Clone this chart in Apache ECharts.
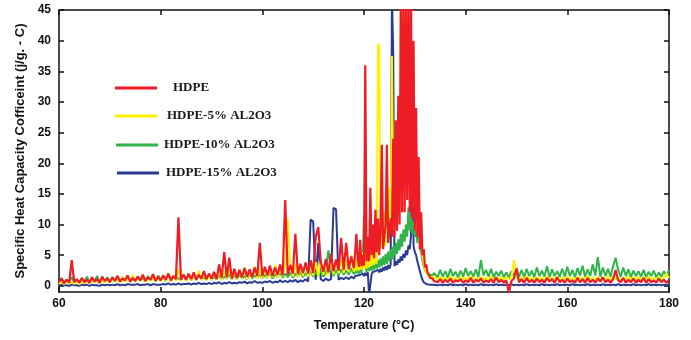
<!DOCTYPE html>
<html>
<head>
<meta charset="utf-8">
<script src="https://cdn.jsdelivr.net/npm/echarts@6/dist/echarts.min.js"></script>
<style>
html,body{margin:0;padding:0;background:#fff;}
#chart{width:691px;height:340px;}
</style>
</head>
<body>
<div id="chart"></div>
<script>
// Temperatures (°C) shared by all series
var temps = [
60,60.5,61,61.5,62,62.5,63,63.5,64,64.5,
65,65.5,66,66.5,67,67.5,68,68.5,69,69.5,
70,70.5,71,71.5,72,72.5,73,73.5,74,74.5,
75,75.5,76,76.5,77,77.5,78,78.5,79,79.5,
80,80.5,81,81.5,82,82.5,83,83.5,84,84.5,
85,85.5,86,86.5,87,87.5,88,88.5,89,89.5,
90,90.5,91,91.5,92,92.5,93,93.5,94,94.5,
95,95.5,96,96.5,97,97.5,98,98.5,99,99.5,
100,100.5,101,101.5,102,102.5,103,103.5,104,104.5,
105,105.5,106,106.5,107,107.5,108,108.5,109,109.5,
110,110.5,111,111.5,112,112.5,113,113.5,114,114.5,
115,115.5,116,116.5,117,117.5,
118,118.25,118.5,118.75,119,119.25,119.5,119.75,
120,120.25,120.5,120.75,121,121.25,121.5,121.75,
122,122.25,122.5,122.75,123,123.25,123.5,123.75,
124,124.25,124.5,124.75,125,125.25,125.5,125.75,
126,126.25,126.5,126.75,127,127.25,127.5,127.75,
128,128.25,128.5,128.75,129,129.25,129.5,129.75,
130,130.25,130.5,130.75,131,131.25,131.5,131.75,
132,132.25,132.5,132.75,133,133.25,133.5,133.75,
134,134.5,135,135.5,136,136.5,137,137.5,138,138.5,
139,139.5,140,140.5,141,141.5,142,142.5,143,143.5,
144,144.5,145,145.5,146,146.5,147,147.5,148,148.5,
149,149.5,150,150.5,151,151.5,152,152.5,153,153.5,
154,154.5,155,155.5,156,156.5,157,157.5,158,158.5,
159,159.5,160,160.5,161,161.5,162,162.5,163,163.5,
164,164.5,165,165.5,166,166.5,167,167.5,168,168.5,
169,169.5,170,170.5,171,171.5,172,172.5,173,173.5,
174,174.5,175,175.5,176,176.5,177,177.5,178,178.5,
179,179.5,180
];

var hdpe = [
0.6,1.2,0.4,1.0,0.5,4.2,0.6,1.1,0.5,1.3,
0.6,1.0,0.5,1.4,0.7,1.1,0.5,1.5,0.8,1.2,
0.6,1.4,0.8,1.6,0.7,1.2,0.9,1.7,0.7,1.3,
0.8,1.5,0.9,1.8,0.8,1.4,1.0,1.9,0.8,1.5,
0.9,1.7,1.0,2.0,0.9,1.6,1.1,11.2,1.0,1.8,
1.0,2.0,1.1,2.2,1.0,1.8,1.2,2.4,1.1,2.0,
1.2,2.3,1.1,3.5,1.3,5.5,1.4,4.6,1.2,2.8,
1.3,2.6,1.4,2.9,1.5,2.7,1.4,3.0,1.6,7.0,
1.6,3.1,1.7,3.3,1.6,3.0,1.8,3.5,1.7,14.0,
1.8,3.4,2.0,8.5,1.9,3.6,2.1,3.8,2.0,4.2,
2.1,8.0,9.6,3.9,2.3,4.4,2.2,5.2,2.4,4.3,
2.5,7.8,2.6,7.0,2.7,4.8,
2.9,5.3,8.5,4.6,
3.1,7.5,3.2,5.0,
3.3,36.0,4.0,8.0,
4.0,16.0,5.0,10.0,
4.5,12.4,5.5,11.0,
5.0,9.0,23.0,6.0,
6.0,10.0,23.0,7.0,
7.0,11.0,8.0,24.0,
8.0,27.0,9.0,31.0,
10.0,47.0,12.0,47.0,
12.0,47.0,14.0,47.0,
12.0,47.0,11.0,40.0,
9.0,29.0,8.0,21.0,
6.0,12.0,5.0,6.0,
3.0,3.5,2.2,1.8,
1.3,1.0,1.2,0.8,
0.9,0.6,1.1,0.5,1.0,0.6,1.2,0.5,0.9,0.7,
1.1,0.5,0.9,0.6,1.3,0.5,1.0,0.7,1.2,0.5,
0.9,0.6,1.1,0.5,1.4,0.6,1.0,0.5,0.9,-1.1,
0.8,1.2,2.8,0.6,1.1,0.5,1.3,0.6,1.0,0.5,
1.2,0.6,1.0,0.5,1.3,0.7,1.1,0.5,1.4,0.6,
1.0,0.5,1.2,0.6,0.9,0.5,1.3,0.6,1.1,0.5,
1.3,0.6,1.0,0.5,1.2,0.7,1.4,0.6,1.0,0.5,
1.1,2.6,0.9,0.6,1.3,0.5,1.0,0.6,1.2,0.5,
1.0,0.6,1.3,0.5,1.1,0.6,0.9,0.5,1.2,0.6,
1.0,0.5,0.9
];

var hdpe5 = [
0.3,0.8,0.2,1.0,0.4,0.7,0.3,1.1,0.2,0.9,
0.4,1.0,0.3,1.2,0.5,0.9,0.4,1.3,0.5,1.1,
0.5,1.4,0.6,1.2,0.5,1.6,0.6,1.3,0.7,1.8,
0.6,1.5,0.7,1.9,0.6,1.4,0.8,1.7,0.7,1.6,
0.7,1.8,0.8,2.1,0.7,1.6,0.9,2.8,0.8,1.9,
0.8,2.0,0.9,1.8,1.0,2.5,0.9,2.1,1.0,1.9,
1.0,2.2,1.1,2.6,1.0,2.4,1.2,2.9,1.1,2.3,
1.1,2.7,1.2,3.0,1.1,2.6,1.3,3.2,1.2,2.8,
1.2,3.0,1.3,2.8,1.4,3.4,1.3,3.1,1.5,3.6,
11.0,3.3,1.5,3.6,1.4,3.2,1.6,3.8,1.5,3.4,
1.7,3.9,1.6,4.2,1.8,3.7,1.7,4.4,1.9,4.0,
2.0,4.5,2.1,4.2,2.2,5.0,
2.3,4.6,2.4,5.2,
2.5,4.8,2.6,5.5,
2.7,5.2,2.8,4.9,
3.0,5.6,3.2,6.0,
3.4,6.5,3.6,39.5,
39.0,6.0,10.0,7.0,
12.0,6.5,15.0,8.0,
16.0,10.0,37.5,12.0,
9.0,20.0,10.0,24.0,
12.0,47.0,14.0,47.0,
16.0,47.0,15.0,22.0,
16.0,15.0,17.0,13.0,
14.0,12.0,11.0,9.0,
8.0,7.0,5.0,3.5,
2.8,2.2,1.8,1.6,
1.4,1.3,1.5,1.2,
1.3,0.9,1.5,1.0,1.4,0.9,1.6,1.0,1.3,0.9,
1.5,1.0,1.4,0.9,1.6,1.1,1.3,0.9,1.5,1.0,
1.4,0.9,1.6,1.0,1.3,1.0,1.5,0.9,1.4,1.1,
1.3,4.2,1.5,0.9,1.4,1.0,1.6,1.1,1.3,0.9,
1.5,1.0,1.4,0.9,1.6,1.0,1.3,1.1,1.5,0.9,
1.4,1.0,1.6,0.9,1.3,1.0,1.5,1.1,1.4,0.9,
1.6,1.0,1.4,0.9,1.5,1.1,1.3,0.9,1.6,1.0,
1.4,1.0,1.5,0.9,1.3,1.1,1.6,1.0,1.4,0.9,
1.5,1.0,1.4,0.9,1.6,1.0,1.3,1.1,1.5,1.0,
1.4,2.0,1.3
];

var hdpe10 = [
0.6,1.3,0.5,1.0,0.7,1.4,0.5,0.9,0.6,1.2,
0.7,1.5,0.6,1.2,0.8,1.6,0.7,1.1,0.6,1.4,
0.8,1.3,0.7,1.5,0.8,1.2,0.9,1.6,0.7,1.3,
0.8,1.5,0.9,1.2,0.8,1.6,0.9,1.4,0.8,1.7,
0.9,1.4,0.8,1.8,0.9,1.5,1.0,1.3,0.9,1.9,
1.0,1.6,0.9,1.5,1.0,1.8,1.1,1.4,1.0,1.7,
1.0,1.5,1.1,1.8,1.0,1.6,1.2,1.9,1.1,1.7,
1.1,1.8,1.2,1.6,1.1,2.0,1.2,1.7,1.3,1.9,
1.2,1.8,1.3,2.1,1.2,1.9,1.4,2.2,1.3,2.0,
1.4,2.2,1.3,2.0,1.5,2.3,1.4,2.1,1.5,2.4,
1.5,2.3,1.6,2.5,1.5,2.2,5.8,3.0,1.6,2.6,
1.7,2.7,1.8,2.5,1.8,2.9,
1.9,2.8,2.0,3.0,
2.0,3.1,2.1,4.0,
11.5,3.2,2.3,3.5,
2.4,3.6,2.5,3.8,
2.6,4.0,2.8,4.2,
3.0,4.5,3.2,4.8,
3.4,5.2,3.6,5.6,
4.0,6.0,4.3,6.4,
4.8,7.0,5.2,7.6,
5.8,8.5,6.4,9.2,
7.2,10.0,8.0,12.8,
9.0,11.5,8.5,10.5,
8.0,9.0,7.0,16.0,
6.0,5.5,4.0,3.2,
2.6,2.4,2.0,2.2,
1.8,2.0,1.7,2.1,
2.2,1.4,2.6,1.5,2.4,1.3,2.8,1.6,2.3,1.4,
2.5,1.5,2.9,1.6,2.4,1.5,2.7,1.4,4.2,1.7,
2.6,1.5,2.8,1.4,2.3,1.6,2.5,1.4,2.2,1.3,
2.4,1.6,2.9,1.5,2.6,1.4,2.8,1.6,2.5,1.4,
3.0,1.6,2.5,1.5,3.2,1.4,2.7,1.6,2.4,1.5,
2.8,1.5,3.1,1.6,2.6,1.4,2.9,1.7,3.3,1.5,
2.7,1.6,3.5,1.7,4.7,1.5,3.0,1.6,2.8,1.5,
3.2,4.6,2.6,1.5,3.0,1.6,2.7,1.4,2.5,1.6,
2.4,1.5,2.6,1.4,2.3,1.6,2.5,1.4,2.2,1.5,
2.4,1.6,2.6
];

var hdpe15 = [
0.0,0.2,0.1,0.1,0.0,0.2,0.1,0.1,0.0,0.2,
0.1,0.2,0.0,0.2,0.1,0.1,0.0,0.2,0.1,0.2,
0.1,0.2,0.1,0.3,0.1,0.2,0.1,0.3,0.2,0.2,
0.2,0.3,0.1,0.2,0.2,0.3,0.1,0.3,0.2,0.2,
0.2,0.3,0.2,0.4,0.2,0.3,0.2,0.4,0.2,0.3,
0.3,0.4,0.2,0.4,0.3,0.5,0.3,0.4,0.3,0.5,
0.3,0.5,0.4,0.6,0.3,0.5,0.4,0.6,0.4,0.5,
0.4,0.6,0.5,0.7,0.4,0.6,0.5,0.8,0.5,0.6,
0.5,0.7,0.6,0.8,0.5,0.7,0.6,0.9,0.6,0.8,
0.6,0.9,0.7,1.0,0.6,0.9,0.7,1.1,0.7,10.8,
10.5,1.0,7.0,1.1,0.8,1.2,0.9,1.1,12.7,12.5,
1.0,1.3,1.1,1.4,1.1,1.5,
1.2,1.6,1.3,1.7,
1.4,1.8,1.5,2.0,
1.6,2.1,1.7,2.2,
-1.5,-1.5,1.9,2.3,
2.0,2.4,2.1,2.6,
2.2,2.8,2.3,3.0,
2.5,3.2,2.6,3.4,
2.8,3.5,47.0,38.0,
3.2,4.0,3.4,4.3,
3.8,4.8,4.1,5.2,
4.6,5.8,5.0,6.6,
6.0,8.2,33.0,6.5,
5.5,5.0,4.0,3.2,
2.4,1.6,1.0,0.6,
0.4,0.3,0.3,0.2,
0.2,0.2,0.1,0.2,
0.2,0.1,0.2,0.1,0.2,0.1,0.3,0.1,0.2,0.1,
0.2,0.1,0.3,0.1,0.2,0.1,0.2,0.1,0.3,0.1,
0.2,0.1,0.2,0.1,0.3,0.1,0.2,0.1,0.2,0.1,
0.3,0.1,0.2,0.1,0.2,0.1,0.3,0.1,0.2,0.1,
0.2,0.1,0.3,0.1,0.2,0.1,0.2,0.1,0.3,0.1,
0.2,0.1,0.2,0.1,0.3,0.1,0.2,0.1,0.2,0.1,
0.3,0.1,0.2,0.1,0.2,0.1,0.3,0.1,0.2,0.1,
0.2,0.1,0.3,0.1,0.2,0.1,0.2,0.1,0.3,0.1,
0.2,0.1,0.2,0.1,0.3,0.1,0.2,0.1,0.2,0.1,
0.2,0.1,0.2
];

var seriesNames = ['HDPE', 'HDPE-5% AL2O3', 'HDPE-10% AL2O3', 'HDPE-15% AL2O3'];
var yTicks = [0, 5, 10, 15, 20, 25, 30, 35, 40, 45];

function pairs(vals) {
  var out = [];
  for (var i = 0; i < temps.length && i < vals.length; i++) out.push([temps[i], vals[i]]);
  return out;
}

var colors = {
  'HDPE': '#ee1c24',
  'HDPE-5% AL2O3': '#fff200',
  'HDPE-10% AL2O3': '#2fb34a',
  'HDPE-15% AL2O3': '#2b3a93'
};

var axisFont = { fontFamily: 'Liberation Sans, Arial, sans-serif', fontWeight: 'bold', fontSize: 12, color: '#111' };
var lineStyleAxis = { color: '#111', width: 1.5 };

function mkLegend(name, top, left, pad) {
  return {
    data: [name], top: top, left: left, orient: 'vertical',
    itemWidth: 42, itemHeight: 3, icon: 'rect', padding: 0,
    selectedMode: false,
    textStyle: { fontFamily: 'Liberation Serif, Times New Roman, serif', fontWeight: 'bold', fontSize: 13, color: '#1a1a1a', lineHeight: 16, padding: [0, 0, 0, pad] }
  };
}

function mkSeries(name, vals, width) {
  return {
    name: name, type: 'line', data: pairs(vals), symbol: 'none', clip: true,
    lineStyle: { color: colors[name], width: width }, itemStyle: { color: colors[name] },
    emphasis: { disabled: true }, z: 2
  };
}

var chart = echarts.init(document.getElementById('chart'), null, { renderer: 'canvas' });
chart.setOption({
  animation: false,
  backgroundColor: '#fff',
  grid: { left: 59, right: 22, top: 10, bottom: 48, containLabel: false },
  legend: [
    mkLegend('HDPE', 80, 115, 11),
    mkLegend('HDPE-5% AL2O3', 108, 115, 5),
    mkLegend('HDPE-10% AL2O3', 137, 116, 1),
    mkLegend('HDPE-15% AL2O3', 165, 117, 2)
  ],
  xAxis: [
    {
      type: 'value', min: 60, max: 180, interval: 20, position: 'bottom',
      axisLine: { show: true, onZero: false, lineStyle: lineStyleAxis },
      axisTick: { show: true, inside: true, length: 5, lineStyle: lineStyleAxis },
      axisLabel: Object.assign({ margin: 6 }, axisFont),
      splitLine: { show: false },
      name: 'Temperature (°C)', nameLocation: 'middle', nameGap: 27,
      nameTextStyle: { fontFamily: 'Liberation Sans, Arial, sans-serif', fontWeight: 'bold', fontSize: 12.5, color: '#111' }
    },
    {
      type: 'value', min: 60, max: 180, interval: 20, position: 'top',
      axisLine: { show: true, onZero: false, lineStyle: lineStyleAxis },
      axisTick: { show: true, inside: true, length: 5, lineStyle: lineStyleAxis },
      axisLabel: { show: false }, splitLine: { show: false }
    }
  ],
  yAxis: [
    {
      type: 'value', min: -1, max: 45, position: 'left',
      axisLine: { show: true, onZero: false, lineStyle: lineStyleAxis },
      axisTick: { show: true, inside: true, length: 5, lineStyle: lineStyleAxis, customValues: yTicks },
      axisLabel: Object.assign({ margin: 8, customValues: yTicks }, axisFont),
      splitLine: { show: false },
      name: 'Specific Heat Capacity Cofficeint (j/g. - C)', nameLocation: 'middle', nameGap: 32,
      nameTextStyle: { fontFamily: 'Liberation Sans, Arial, sans-serif', fontWeight: 'bold', fontSize: 13, color: '#111' }
    },
    {
      type: 'value', min: -1, max: 45, position: 'right',
      axisLine: { show: true, onZero: false, lineStyle: lineStyleAxis },
      axisTick: { show: true, inside: true, length: 5, lineStyle: lineStyleAxis, customValues: yTicks },
      axisLabel: { show: false }, splitLine: { show: false }
    }
  ],
  series: [
    mkSeries('HDPE-15% AL2O3', hdpe15, 2),
    mkSeries('HDPE-10% AL2O3', hdpe10, 2),
    mkSeries('HDPE-5% AL2O3', hdpe5, 2),
    mkSeries('HDPE', hdpe, 2.2)
  ]
});
</script>
</body>
</html>
